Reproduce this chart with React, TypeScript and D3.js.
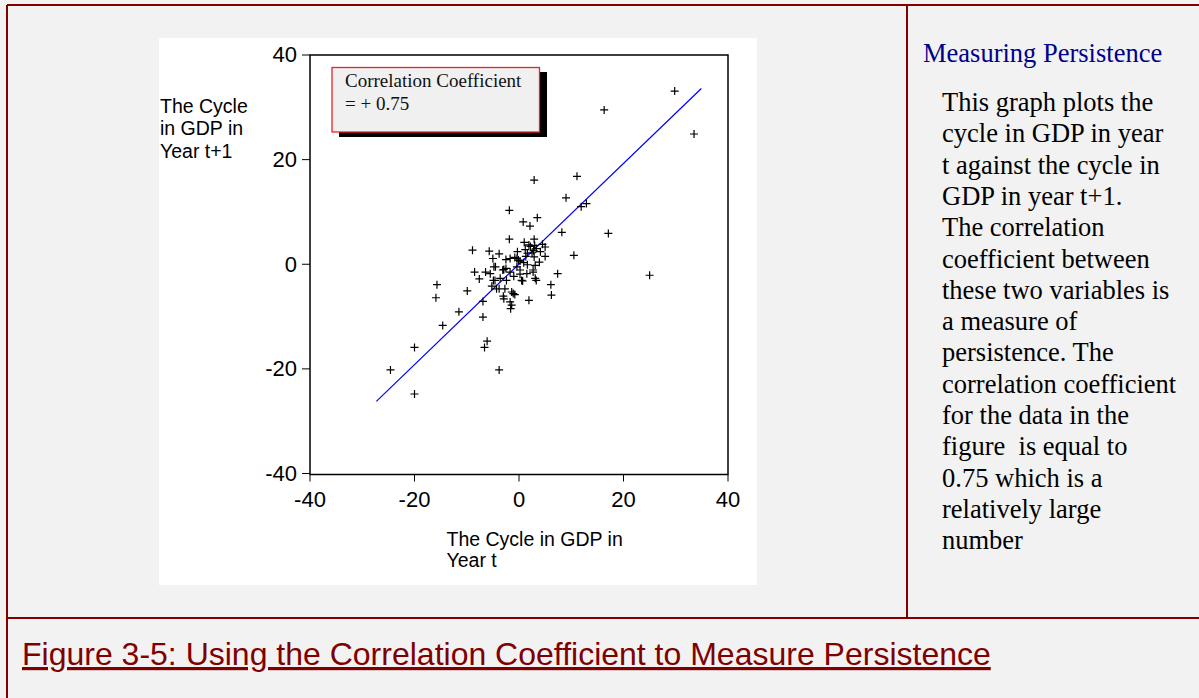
import React from "react";
import * as d3 from "d3";

// Cycle in GDP in year t (x) vs year t+1 (y)
const cycleT: number[] = [
  29.8, 16.3, 33.5, 2.9, 11.1, 9.0, 11.9, 12.9, -1.85, 3.5, 0.8, 2.1, 8.2, 17.1, -1.85, 2.9, 10.5, 25.0,
  -8.9, -5.7, -3.8, -5.0, -8.5, -6.4, -7.6, -4.9, -15.7, -15.9, -9.9, -6.9, -11.5, -6.9, -14.6, -6.1,
  -6.6, -20.0, -24.6, -3.8, -20.0, 7.4, 6.1, 6.2, 1.9, 5.0, 5.0, 3.9,
  1.6, 2.2, 2.8, 1.9, 3.3, 4.1, 2.5, 3.0, 1.2,
  -1.7, -0.8, -0.1, -2.5, -4.8, -2.5, -0.4, 0.2, 1.6, 3.1, 2.7, 1.5, 0.2, -1.7, -3.6, -2.4, 0.5, 3.1,
  -5.2, -3.8, -2.7, -3.0, -1.4, -0.8, -1.7, -1.4, -1.6, -5.5, 2.9, 1.3, 0.2, -0.4, 0.7, 3.3, 2.7, -3.1,
  -4.6, -4.3, -2.9, -4.5, -2.9, -1.1, 0.9, -1.0, 1.0, 4.5, -0.3,
];
const cycleT1: number[] = [
  33.1, 29.5, 24.9, 16.1, 16.8, 12.7, 11.0, 11.6, 10.3, 8.9, 8.1, 7.3, 6.1, 5.9, 4.8, 4.8, 1.7, -2.1,
  2.7, 2.5, 2.0, 1.1, -1.5, -1.5, -2.8, -3.1, -3.9, -6.4, -5.1, -7.1, -9.1, -10.1, -11.7, -14.7,
  -15.9, -15.9, -20.2, -20.2, -24.8, -1.8, -3.9, -5.9, -6.9, 3.3, 1.5, 0.4,
  2.1, 3.4, 2.6, 3.7, 3.0, 2.4, 2.2, 3.6, 2.8,
  1.1, 1.3, 0.8, 0.9, -0.5, -0.8, -0.5, -1.1, -0.1, -0.2, -1.5, -1.8, -1.9, -1.5, -2.7, -3.1, -3.1, -2.7,
  -4.2, -4.7, -4.7, -6.1, -5.3, -5.8, -7.2, -7.8, -8.5, -1.8, 1.4, 1.5, 0.6, 1.1, -3.2, -3.1, -1.1, -1.1,
  -3.1, -4.7, -6.6, -0.5, -1.0, -5.6, 0.3, -2.3, 4.2, 3.8, 2.4,
];

// fitted line end points
const fitX: number[] = [-27.3, 34.9];
const fitY: number[] = [-26.2, 33.6];

const tickValues: number[] = [-40, -20, 0, 20, 40];

const yTitle: string[] = ["The Cycle", "in GDP in", "Year t+1"];
const xTitle: string[] = ["The Cycle in GDP in", "Year t"];
const legendLines: string[] = ["Correlation Coefficient", "= + 0.75"];
const sideTitle = "Measuring Persistence";
const sideText: string[] = [
  "This graph plots the",
  "cycle in GDP in year",
  "t against the cycle in",
  "GDP in year t+1.",
  "The correlation",
  "coefficient between",
  "these two variables is",
  "a measure of",
  "persistence. The",
  "correlation coefficient",
  "for the data in the",
  "figure\u00a0 is equal to",
  "0.75 which is a",
  "relatively large",
  "number",
];
const caption = "Figure 3-5: Using the Correlation Coefficient to Measure Persistence";

const W = 1199;
const H = 698;
const DARK_RED = "#800000";

export default function App() {
  const x = d3.scaleLinear().domain([-40, 40]).range([310, 728]);
  const y = d3.scaleLinear().domain([-40, 40]).range([473.5, 55]);
  const bottomY = 474.5;

  const line = d3
    .line<number>()
    .x((_, i) => x(fitX[i]))
    .y((_, i) => y(fitY[i]));

  const cross = (cx: number, cy: number, r = 4) =>
    `M${cx - r},${cy}H${cx + r}M${cx},${cy - r}V${cy + r}`;

  const crossPath = cycleT.map((v, i) => cross(x(v), y(cycleT1[i]))).join("");

  return (
    <svg
      width={W}
      height={H}
      style={{ position: "absolute", left: 0, top: 0, display: "block" }}
    >
      <rect x={0} y={0} width={W} height={H} fill="#f2f2f2" />
      {/* frame lines */}
      <g stroke={DARK_RED} strokeWidth={2} fill="none">
        <line x1={7} y1={5} x2={W} y2={5} />
        <line x1={7} y1={5} x2={7} y2={H} />
        <line x1={7} y1={618} x2={W} y2={618} />
        <line x1={907} y1={5} x2={907} y2={618} />
      </g>

      {/* chart panel */}
      <rect x={159} y={38} width={598} height={547} fill="#ffffff" />

      {/* plot frame */}
      <g stroke="#000" strokeWidth={1.5} fill="none">
        <path d={`M${x(-40)},${y(40)}H${x(40)}V${bottomY}H${x(-40)}Z`} />
        {tickValues.map((t) => (
          <line key={"yt" + t} x1={x(-40) - 8} x2={x(-40)} y1={y(t)} y2={y(t)} strokeWidth={1} />
        ))}
        {tickValues.map((t) => (
          <line key={"xt" + t} x1={x(t)} x2={x(t)} y1={bottomY} y2={bottomY + 7} strokeWidth={1} />
        ))}
      </g>
      <g fontFamily="Arial, 'Liberation Sans', sans-serif" fontSize={22} fill="#000">
        {tickValues.map((t) => (
          <text key={"yl" + t} x={x(-40) - 13} y={y(t)} dy="0.33em" textAnchor="end">
            {t}
          </text>
        ))}
        {tickValues.map((t) => (
          <text key={"xl" + t} x={x(t)} y={507} textAnchor="middle">
            {t}
          </text>
        ))}
      </g>

      {/* axis titles */}
      <g fontFamily="Arial, 'Liberation Sans', sans-serif" fontSize={19.5} fill="#000">
        {yTitle.map((s, i) => (
          <text key={"ytt" + i} x={160} y={112.5 + i * 22.6}>
            {s}
          </text>
        ))}
        {xTitle.map((s, i) => (
          <text key={"xtt" + i} x={446.5} y={546 + i * 21}>
            {s}
          </text>
        ))}
      </g>

      {/* regression line */}
      <path d={line(fitX) || ""} stroke="#0000ff" strokeWidth={1.2} fill="none" />

      {/* points */}
      <path d={crossPath} stroke="#000" strokeWidth={1.2} fill="none" />

      {/* legend box */}
      <rect x={339} y={72} width={208} height={65} fill="#000" />
      <rect x={332} y={67.5} width={207.5} height={64.5} fill="#f0f0f0" stroke="#ee2222" strokeWidth={1.3} />
      <g fontFamily="'Times New Roman', 'Liberation Serif', serif" fontSize={19} fill="#111">
        {legendLines.map((s, i) => (
          <text key={"lg" + i} x={345} y={87 + i * 23}>
            {s}
          </text>
        ))}
      </g>

      {/* side panel */}
      <text
        x={923}
        y={62}
        fontFamily="'Times New Roman', 'Liberation Serif', serif"
        fontSize={26.5}
        fill="#00008b"
      >
        {sideTitle}
      </text>
      <g fontFamily="'Times New Roman', 'Liberation Serif', serif" fontSize={26.5} fill="#000">
        {sideText.map((s, i) => (
          <text key={"st" + i} x={942} y={111 + i * 31.3} style={{ whiteSpace: "pre" }}>
            {s}
          </text>
        ))}
      </g>

      {/* caption */}
      <text
        x={22}
        y={665}
        fontFamily="Arial, 'Liberation Sans', sans-serif"
        fontSize={32}
        fill={DARK_RED}
        textDecoration="underline"
      >
        {caption}
      </text>
    </svg>
  );
}
